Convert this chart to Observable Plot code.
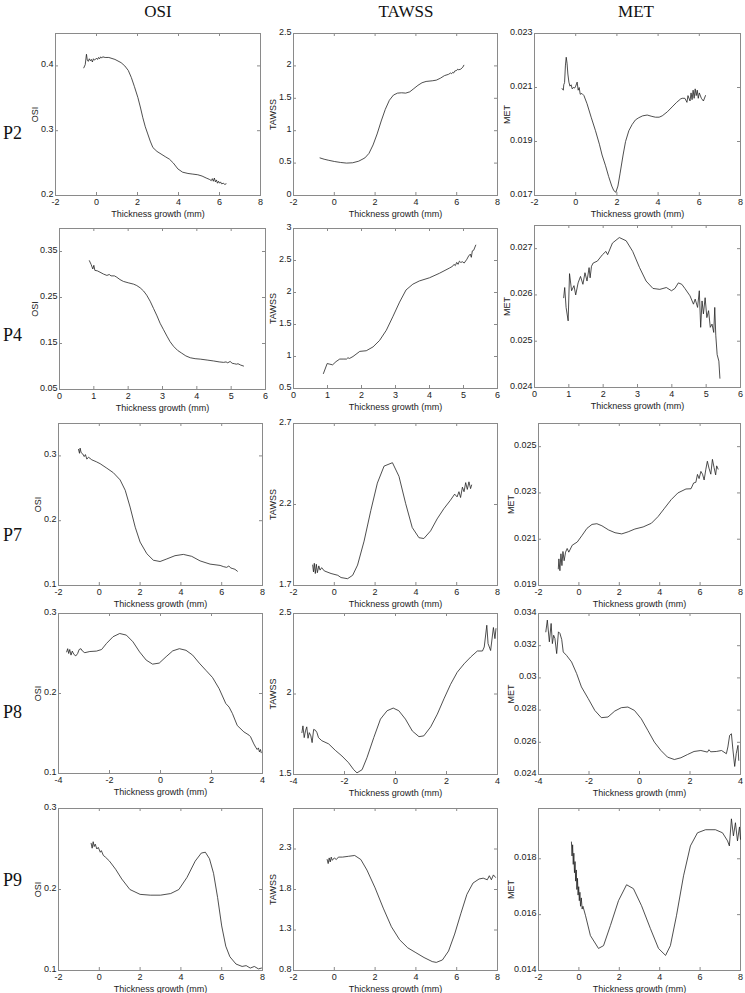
<!DOCTYPE html>
<html><head><meta charset="utf-8">
<script src="https://cdn.jsdelivr.net/npm/d3@7"></script>
<script src="https://cdn.jsdelivr.net/npm/@observablehq/plot@0.6"></script>
<style>
body{margin:0;background:#fff;}
#c{position:relative;width:745px;height:993px;overflow:hidden;background:#fff;}
.colt{position:absolute;font-family:"Liberation Serif",serif;font-size:17px;color:#111;transform:translate(-50%,-50%);white-space:nowrap;}
.rowt{position:absolute;font-family:"Liberation Serif",serif;font-size:18px;color:#111;left:3px;transform:translateY(-50%);}
.panel{position:absolute;}
</style></head><body><div id="c"></div>
<script>
// ---- tick values ----
const xTicksA = [-2, 0, 2, 4, 6, 8];
const xTicksB = [0, 1, 2, 3, 4, 5, 6];
const xTicksC = [-4, -2, 0, 2, 4];
const columnTitles = ["OSI", "TAWSS", "MET"];
const rowTitles = ["P2", "P4", "P7", "P8", "P9"];
const xLabel = "Thickness growth (mm)";

const osiTicksP2 = [0.2, 0.3, 0.4];
const tawssTicksP2 = [0, 0.5, 1, 1.5, 2, 2.5];
const metTicksP2 = [0.017, 0.019, 0.021, 0.023];
const osiTicksP4 = [0.05, 0.15, 0.25, 0.35];
const tawssTicksP4 = [0.5, 1, 1.5, 2, 2.5, 3];
const metTicksP4 = [0.024, 0.025, 0.026, 0.027];
const osiTicksP7 = [0.1, 0.2, 0.3];
const tawssTicksP7 = [1.7, 2.2, 2.7];
const metTicksP7 = [0.019, 0.021, 0.023, 0.025];
const osiTicksP8 = [0.1, 0.2, 0.3];
const tawssTicksP8 = [1.5, 2, 2.5];
const metTicksP8 = [0.024, 0.026, 0.028, 0.03, 0.032, 0.034];
const osiTicksP9 = [0.1, 0.2, 0.3];
const tawssTicksP9 = [0.8, 1.3, 1.8, 2.3];
const metTicksP9 = [0.014, 0.016, 0.018];

// ---- series [thickness growth, value] ----
const p2_osi = [[-0.62,0.397],[-0.55,0.402],[-0.49,0.418],[-0.45,0.409],[-0.4,0.407],[-0.35,0.411],[-0.3,0.408],[-0.25,0.41],[-0.2,0.406],[-0.15,0.411],[-0.1,0.409],[-0.05,0.41],[0.0,0.412],[0.05,0.41],[0.1,0.413],[0.15,0.411],[0.2,0.414],[0.25,0.412],[0.3,0.414],[0.42,0.413],[0.6,0.413],[0.9,0.41],[1.2,0.405],[1.38,0.4],[1.55,0.393],[1.7,0.382],[1.85,0.368],[2.02,0.351],[2.15,0.335],[2.26,0.32],[2.38,0.306],[2.5,0.295],[2.62,0.284],[2.75,0.274],[2.95,0.268],[3.15,0.264],[3.35,0.26],[3.56,0.256],[3.75,0.25],[3.97,0.241],[4.2,0.236],[4.46,0.234],[4.7,0.233],[4.94,0.232],[5.15,0.23],[5.35,0.227],[5.5,0.225],[5.6,0.223],[5.65,0.226],[5.7,0.222],[5.75,0.227],[5.8,0.221],[5.85,0.224],[5.9,0.219],[5.95,0.222],[6.0,0.219],[6.05,0.221],[6.1,0.218],[6.2,0.219],[6.25,0.217],[6.32,0.218]];
const p2_tawss = [[-0.7,0.58],[-0.5,0.56],[-0.3,0.545],[0,0.525],[0.3,0.51],[0.6,0.5],[0.9,0.505],[1.2,0.53],[1.5,0.58],[1.7,0.65],[1.9,0.78],[2.1,0.95],[2.3,1.15],[2.5,1.33],[2.7,1.47],[2.9,1.55],[3.1,1.58],[3.3,1.585],[3.5,1.58],[3.7,1.6],[3.9,1.65],[4.1,1.7],[4.3,1.74],[4.5,1.76],[4.8,1.77],[5.0,1.78],[5.2,1.81],[5.4,1.85],[5.6,1.87],[5.7,1.89],[5.75,1.88],[5.8,1.9],[5.85,1.89],[5.9,1.92],[6.0,1.93],[6.05,1.95],[6.1,1.94],[6.2,1.95],[6.3,1.98],[6.35,2.01]];
const p2_met = [[-0.66,0.02096],[-0.6,0.0209],[-0.58,0.0211],[-0.54,0.02118],[-0.5,0.0218],[-0.46,0.02212],[-0.42,0.0219],[-0.38,0.0215],[-0.33,0.0212],[-0.28,0.02105],[-0.22,0.0211],[-0.17,0.02095],[-0.12,0.021],[-0.05,0.02098],[0.0,0.02105],[0.07,0.0212],[0.12,0.0209],[0.17,0.021],[0.22,0.02075],[0.3,0.02078],[0.4,0.0207],[0.55,0.0204],[0.75,0.0199],[0.96,0.0194],[1.15,0.0189],[1.28,0.0185],[1.45,0.0181],[1.6,0.0177],[1.75,0.01735],[1.85,0.01718],[1.95,0.01712],[2.05,0.01735],[2.15,0.0178],[2.3,0.0185],[2.42,0.019],[2.58,0.0194],[2.74,0.01963],[2.9,0.0198],[3.06,0.01988],[3.25,0.01995],[3.47,0.01998],[3.7,0.01993],[3.87,0.0199],[4.05,0.0199],[4.2,0.01995],[4.45,0.0201],[4.68,0.02028],[4.9,0.02045],[5.1,0.02058],[5.17,0.0206],[5.3,0.0206],[5.4,0.02045],[5.45,0.0207],[5.55,0.0205],[5.6,0.0208],[5.65,0.02055],[5.7,0.0209],[5.75,0.0206],[5.8,0.02095],[5.85,0.0207],[5.9,0.0209],[5.95,0.0206],[6.0,0.0208],[6.1,0.0206],[6.2,0.0205],[6.3,0.0207]];

const p4_osi = [[0.87,0.33],[0.92,0.322],[0.97,0.312],[1.0,0.32],[1.03,0.309],[1.1,0.308],[1.18,0.305],[1.28,0.301],[1.38,0.298],[1.45,0.3],[1.5,0.297],[1.6,0.297],[1.67,0.294],[1.76,0.289],[1.86,0.285],[2.0,0.282],[2.16,0.279],[2.25,0.276],[2.35,0.271],[2.45,0.264],[2.54,0.255],[2.64,0.242],[2.74,0.226],[2.84,0.21],[2.93,0.194],[3.03,0.18],[3.13,0.166],[3.22,0.154],[3.32,0.144],[3.44,0.135],[3.56,0.129],[3.68,0.123],[3.81,0.119],[3.95,0.117],[4.1,0.116],[4.3,0.114],[4.49,0.112],[4.65,0.11],[4.78,0.109],[4.85,0.11],[4.9,0.108],[4.97,0.111],[5.03,0.107],[5.1,0.106],[5.15,0.105],[5.2,0.106],[5.28,0.103],[5.36,0.101]];
const p4_tawss = [[0.88,0.734],[0.99,0.89],[1.07,0.88],[1.15,0.87],[1.25,0.92],[1.36,0.96],[1.46,0.96],[1.56,0.96],[1.6,0.98],[1.65,0.97],[1.75,1.0],[1.95,1.08],[2.14,1.09],[2.34,1.15],[2.53,1.25],[2.73,1.41],[2.92,1.62],[3.12,1.85],[3.31,2.04],[3.51,2.13],[3.7,2.18],[4.0,2.23],[4.29,2.3],[4.58,2.38],[4.68,2.41],[4.72,2.44],[4.76,2.42],[4.8,2.47],[4.84,2.44],[4.88,2.49],[4.92,2.47],[4.97,2.48],[5.02,2.46],[5.1,2.52],[5.15,2.57],[5.2,2.6],[5.23,2.55],[5.26,2.65],[5.3,2.66],[5.36,2.74]];
const p4_met = [[0.85,0.02594],[0.88,0.02616],[0.92,0.02573],[0.98,0.02544],[1.02,0.02646],[1.08,0.02609],[1.15,0.0262],[1.2,0.026],[1.27,0.02626],[1.34,0.0264],[1.41,0.02623],[1.47,0.02648],[1.53,0.0263],[1.59,0.02659],[1.62,0.02637],[1.66,0.02662],[1.71,0.02669],[1.83,0.02673],[1.98,0.02687],[2.08,0.02694],[2.13,0.02687],[2.27,0.02712],[2.47,0.02724],[2.67,0.02717],[2.86,0.02694],[3.06,0.02659],[3.25,0.0263],[3.45,0.02614],[3.65,0.02612],[3.84,0.02616],[3.99,0.02609],[4.09,0.02614],[4.19,0.02626],[4.29,0.02623],[4.38,0.02614],[4.53,0.02598],[4.63,0.0258],[4.68,0.02591],[4.75,0.02573],[4.8,0.02609],[4.84,0.0253],[4.88,0.02587],[4.92,0.02559],[4.97,0.02594],[5.02,0.02551],[5.07,0.02566],[5.12,0.0253],[5.17,0.02537],[5.22,0.02519],[5.25,0.02573],[5.28,0.02513],[5.32,0.02471],[5.37,0.02457],[5.4,0.0242]];

const p7_osi = [[-1.02,0.31],[-0.97,0.304],[-0.94,0.312],[-0.89,0.305],[-0.81,0.303],[-0.74,0.299],[-0.68,0.302],[-0.61,0.295],[-0.53,0.298],[-0.37,0.294],[-0.15,0.291],[0.04,0.288],[0.37,0.281],[0.69,0.274],[1.02,0.263],[1.27,0.247],[1.51,0.221],[1.76,0.19],[2.0,0.167],[2.33,0.149],[2.65,0.139],[2.98,0.137],[3.31,0.141],[3.71,0.146],[4.12,0.148],[4.53,0.145],[4.94,0.138],[5.43,0.133],[5.92,0.131],[6.1,0.129],[6.24,0.128],[6.35,0.13],[6.45,0.127],[6.55,0.126],[6.65,0.125],[6.77,0.122]];
const p7_tawss = [[-1.06,1.826],[-1.02,1.784],[-0.98,1.837],[-0.93,1.774],[-0.88,1.831],[-0.83,1.779],[-0.76,1.821],[-0.7,1.795],[-0.62,1.81],[-0.49,1.79],[-0.16,1.774],[0.17,1.763],[0.33,1.749],[0.65,1.742],[0.9,1.763],[1.14,1.826],[1.46,1.974],[1.79,2.163],[2.11,2.332],[2.44,2.437],[2.85,2.458],[3.17,2.374],[3.5,2.205],[3.82,2.058],[4.15,1.995],[4.39,1.99],[4.72,2.037],[5.04,2.111],[5.37,2.174],[5.69,2.226],[5.9,2.264],[6.02,2.247],[6.11,2.279],[6.19,2.243],[6.28,2.307],[6.36,2.279],[6.44,2.335],[6.52,2.293],[6.6,2.34],[6.68,2.298],[6.73,2.32]];
const p7_met = [[-1.02,0.01972],[-0.99,0.02015],[-0.94,0.01964],[-0.89,0.02037],[-0.84,0.01986],[-0.79,0.02047],[-0.73,0.02007],[-0.66,0.02044],[-0.58,0.0206],[-0.5,0.02044],[-0.33,0.02074],[-0.08,0.02088],[0.16,0.02117],[0.4,0.02147],[0.65,0.02164],[0.89,0.02167],[1.14,0.02158],[1.47,0.0214],[1.79,0.02128],[2.12,0.02123],[2.44,0.02132],[2.77,0.02144],[3.18,0.02153],[3.59,0.02169],[3.92,0.02198],[4.24,0.02234],[4.57,0.02271],[4.9,0.023],[5.3,0.02317],[5.55,0.02318],[5.68,0.02343],[5.79,0.02346],[5.87,0.0238],[5.95,0.02362],[6.04,0.02393],[6.12,0.02381],[6.2,0.02356],[6.28,0.024],[6.36,0.02437],[6.44,0.02407],[6.53,0.02381],[6.61,0.02445],[6.69,0.0241],[6.77,0.02378],[6.82,0.02417],[6.89,0.02403]];

const p8_osi = [[-3.68,0.252],[-3.64,0.256],[-3.6,0.25],[-3.56,0.255],[-3.51,0.248],[-3.46,0.253],[-3.4,0.249],[-3.32,0.247],[-3.25,0.25],[-3.19,0.255],[-3.12,0.256],[-3.06,0.253],[-2.97,0.251],[-2.77,0.2525],[-2.51,0.253],[-2.31,0.255],[-2.12,0.2625],[-1.86,0.271],[-1.6,0.275],[-1.34,0.273],[-1.08,0.2646],[-0.82,0.252],[-0.56,0.2417],[-0.31,0.2367],[-0.05,0.238],[0.22,0.246],[0.48,0.2533],[0.74,0.256],[1.0,0.254],[1.26,0.248],[1.52,0.238],[1.78,0.229],[2.04,0.22],[2.3,0.206],[2.56,0.1875],[2.69,0.183],[2.82,0.175],[3.01,0.16],[3.27,0.152],[3.47,0.148],[3.53,0.146],[3.66,0.137],[3.73,0.133],[3.79,0.13],[3.84,0.132],[3.88,0.127],[3.92,0.13],[3.95,0.126]];
const p8_tawss = [[-3.67,1.76],[-3.63,1.802],[-3.58,1.729],[-3.53,1.771],[-3.48,1.796],[-3.43,1.725],[-3.38,1.76],[-3.32,1.74],[-3.27,1.698],[-3.21,1.78],[-3.14,1.775],[-3.08,1.76],[-3.02,1.729],[-2.89,1.71],[-2.62,1.69],[-2.36,1.65],[-2.1,1.615],[-1.84,1.573],[-1.64,1.53],[-1.51,1.51],[-1.31,1.53],[-1.12,1.604],[-0.85,1.73],[-0.59,1.844],[-0.33,1.896],[-0.09,1.9125],[0.13,1.896],[0.39,1.844],[0.66,1.77],[0.92,1.735],[1.11,1.74],[1.38,1.796],[1.64,1.875],[1.9,1.97],[2.16,2.06],[2.42,2.135],[2.69,2.1875],[2.95,2.23],[3.21,2.267],[3.41,2.267],[3.48,2.292],[3.58,2.427],[3.63,2.313],[3.73,2.27],[3.84,2.413],[3.9,2.344],[3.94,2.406]];
const p8_met = [[-3.71,0.03286],[-3.65,0.03359],[-3.57,0.03224],[-3.5,0.03338],[-3.45,0.03213],[-3.4,0.03265],[-3.35,0.03245],[-3.28,0.03151],[-3.21,0.03286],[-3.15,0.03276],[-3.08,0.03238],[-3.02,0.03161],[-2.89,0.0314],[-2.69,0.03099],[-2.49,0.03027],[-2.3,0.02944],[-2.03,0.02871],[-1.77,0.02798],[-1.51,0.02753],[-1.25,0.02757],[-0.98,0.02794],[-0.72,0.02815],[-0.46,0.02819],[-0.2,0.02798],[0.07,0.02746],[0.33,0.02674],[0.59,0.02601],[0.85,0.02549],[1.11,0.02508],[1.38,0.02493],[1.64,0.02504],[1.9,0.02524],[2.16,0.02543],[2.43,0.02549],[2.69,0.02539],[2.75,0.02554],[2.82,0.02541],[3.04,0.02543],[3.25,0.02549],[3.44,0.02529],[3.5,0.02571],[3.57,0.02643],[3.64,0.02653],[3.7,0.02553],[3.77,0.0245],[3.83,0.02529],[3.9,0.02581],[3.93,0.02488]];

const p9_osi = [[-0.4,0.257],[-0.35,0.251],[-0.3,0.259],[-0.25,0.253],[-0.2,0.256],[-0.12,0.25],[-0.05,0.252],[0.05,0.246],[0.1,0.248],[0.2,0.242],[0.3,0.24],[0.5,0.235],[0.8,0.225],[1.1,0.213],[1.5,0.2],[2.0,0.194],[2.5,0.193],[3.0,0.193],[3.5,0.195],[3.9,0.2],[4.3,0.215],[4.7,0.235],[5.0,0.245],[5.2,0.246],[5.4,0.238],[5.6,0.22],[5.8,0.19],[6.0,0.155],[6.2,0.13],[6.4,0.117],[6.7,0.108],[7.0,0.105],[7.2,0.106],[7.4,0.103],[7.6,0.105],[7.8,0.102],[7.95,0.103]];
const p9_tawss = [[-0.35,2.17],[-0.3,2.12],[-0.25,2.19],[-0.2,2.14],[-0.15,2.2],[-0.1,2.16],[0.0,2.19],[0.1,2.17],[0.2,2.2],[0.4,2.2],[0.7,2.21],[1.0,2.22],[1.3,2.17],[1.6,2.04],[2.0,1.82],[2.4,1.57],[2.8,1.34],[3.2,1.18],[3.6,1.08],[4.0,1.02],[4.4,0.96],[4.8,0.91],[5.0,0.9],[5.3,0.93],[5.6,1.04],[5.9,1.25],[6.2,1.5],[6.5,1.74],[6.8,1.88],[7.1,1.93],[7.3,1.94],[7.5,1.92],[7.6,1.97],[7.7,1.92],[7.8,1.98],[7.9,1.95]];
const p9_met = [[-0.37,0.0186],[-0.34,0.0181],[-0.31,0.0185],[-0.28,0.0178],[-0.25,0.0182],[-0.22,0.0175],[-0.19,0.0179],[-0.16,0.0172],[-0.13,0.0176],[-0.1,0.0169],[-0.07,0.0173],[-0.04,0.0167],[-0.01,0.017],[0.02,0.0165],[0.05,0.0168],[0.08,0.0163],[0.12,0.0166],[0.16,0.0162],[0.2,0.0163],[0.33,0.01596],[0.57,0.01525],[0.97,0.01479],[1.22,0.01489],[1.56,0.01561],[1.96,0.0165],[2.36,0.01707],[2.7,0.01693],[3.1,0.01632],[3.54,0.0155],[3.94,0.01479],[4.29,0.01454],[4.53,0.01489],[4.83,0.01596],[5.18,0.01739],[5.52,0.01846],[5.87,0.01893],[6.27,0.01904],[6.76,0.01904],[7.11,0.01893],[7.36,0.01864],[7.45,0.01846],[7.55,0.01943],[7.65,0.01882],[7.75,0.01929],[7.85,0.01864],[7.95,0.01914],[8.0,0.0187]];

// ---- panel layout (frame box in page pixels) ----
const panels = [
  {data:p2_osi,   xt:xTicksA, yt:osiTicksP2,   yd:[0.2,0.45],     yl:"OSI",   box:[55,33,260,195],  lo:24},
  {data:p2_tawss, xt:xTicksA, yt:tawssTicksP2, yd:[0,2.5],        yl:"TAWSS", box:[293,33,497,195], lo:24},
  {data:p2_met,   xt:xTicksA, yt:metTicksP2,   yd:[0.017,0.023],  yl:"MET",   box:[534,33,740,195], lo:31},
  {data:p4_osi,   xt:xTicksB, yt:osiTicksP4,   yd:[0.05,0.4],     yl:"OSI",   box:[59,228,265,389], lo:28},
  {data:p4_tawss, xt:xTicksB, yt:tawssTicksP4, yd:[0.5,3],        yl:"TAWSS", box:[293,228,497,388],lo:24},
  {data:p4_met,   xt:xTicksB, yt:metTicksP4,   yd:[0.024,0.0275], yl:"MET",   box:[534,225,740,387],lo:31},
  {data:p7_osi,   xt:xTicksA, yt:osiTicksP7,   yd:[0.1,0.35],     yl:"OSI",   box:[58,423,262,585], lo:24},
  {data:p7_tawss, xt:xTicksA, yt:tawssTicksP7, yd:[1.7,2.7],      yl:"TAWSS", box:[293,423,497,585],lo:24},
  {data:p7_met,   xt:xTicksA, yt:metTicksP7,   yd:[0.019,0.026],  yl:"MET",   box:[538,423,740,585],lo:31},
  {data:p8_osi,   xt:xTicksC, yt:osiTicksP8,   yd:[0.1,0.3],      yl:"OSI",   box:[58,613,262,773], lo:24},
  {data:p8_tawss, xt:xTicksC, yt:tawssTicksP8, yd:[1.5,2.5],      yl:"TAWSS", box:[293,613,497,774],lo:24},
  {data:p8_met,   xt:xTicksC, yt:metTicksP8,   yd:[0.024,0.034],  yl:"MET",   box:[538,613,740,774],lo:31},
  {data:p9_osi,   xt:xTicksA, yt:osiTicksP9,   yd:[0.1,0.3],      yl:"OSI",   box:[58,808,262,970], lo:24},
  {data:p9_tawss, xt:xTicksA, yt:tawssTicksP9, yd:[0.8,2.8],      yl:"TAWSS", box:[293,808,497,970],lo:24},
  {data:p9_met,   xt:xTicksA, yt:metTicksP9,   yd:[0.014,0.0198], yl:"MET",   box:[538,808,740,970],lo:31}
];
const colCenters = [158, 406, 636];
const rowCenters = [133, 335, 535, 712, 880];

const container = document.getElementById("c");
columnTitles.forEach((t, i) => {
  const d = document.createElement("div");
  d.className = "colt"; d.textContent = t;
  d.style.left = colCenters[i] + "px"; d.style.top = "12px";
  container.appendChild(d);
});
rowTitles.forEach((t, i) => {
  const d = document.createElement("div");
  d.className = "rowt"; d.textContent = t;
  d.style.top = rowCenters[i] + "px";
  container.appendChild(d);
});

const fmt = v => String(+v.toFixed(4));
const ML = 46, MR = 4, MT = 6, MB = 24;
const gridCol = "#8a8a8a";
panels.forEach(p => {
  const [L, T, R, B] = p.box;
  const w = R - L, h = B - T;
  const x0 = p.xt[0], x1 = p.xt[p.xt.length - 1];
  const svg = Plot.plot({
    width: w + ML + MR, height: h + MT + MB,
    marginLeft: ML, marginRight: MR, marginTop: MT, marginBottom: MB,
    x: {domain: [x0, x1]},
    y: {domain: p.yd},
    style: {fontFamily: "'Liberation Sans', Arial, sans-serif", fontSize: "9px", color: "#222", background: "transparent", overflow: "visible"},
    marks: [
      Plot.ruleX(p.xt, {x: d => d, insetTop: h - 3, stroke: gridCol}),
      Plot.ruleX(p.xt, {x: d => d, insetBottom: h - 3, stroke: gridCol}),
      Plot.ruleY(p.yt, {y: d => d, insetRight: w - 3, stroke: gridCol}),
      Plot.ruleY(p.yt, {y: d => d, insetLeft: w - 3, stroke: gridCol}),
      Plot.frame({stroke: gridCol, strokeWidth: 1}),
      Plot.axisX(p.xt, {tickSize: 0, tickPadding: 3, tickFormat: fmt, label: xLabel, labelAnchor: "center", labelArrow: "none", labelOffset: 21}),
      Plot.axisY(p.yt, {tickSize: 0, tickPadding: 2, dy: -1.5, tickFormat: fmt, label: p.yl, labelAnchor: "center", labelArrow: "none", labelOffset: p.lo}),
      Plot.line(p.data, {x: d => d[0], y: d => d[1], stroke: "#222", strokeWidth: 0.8})
    ]
  });
  svg.classList.add("panel");
  svg.style.left = (L - ML) + "px";
  svg.style.top = (T - MT) + "px";
  container.appendChild(svg);
});
</script></body></html>
